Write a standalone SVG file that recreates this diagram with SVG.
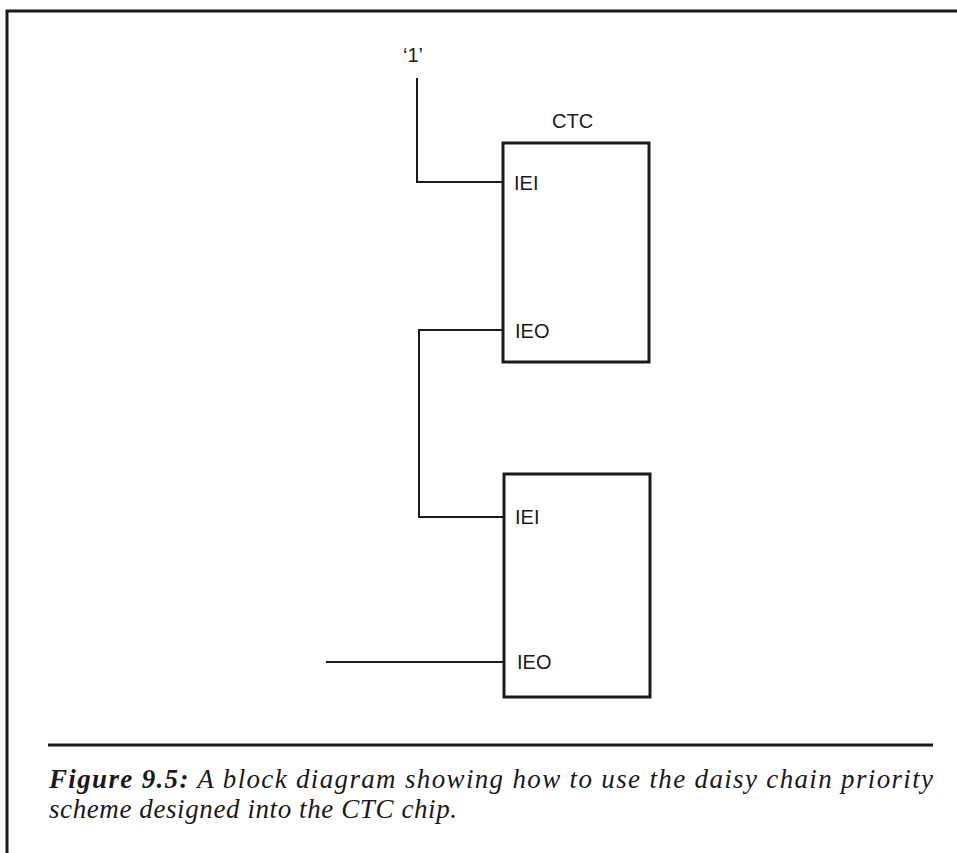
<svg xmlns="http://www.w3.org/2000/svg" width="957" height="853" viewBox="0 0 957 853">
<style>
.frame{fill:none;stroke:#1a1a1a;stroke-width:3}
.box{fill:#fff;stroke:#1a1a1a;stroke-width:3}
.wire{fill:none;stroke:#1a1a1a;stroke-width:2}
.lbl{font-family:"Liberation Sans",Arial,sans-serif;font-size:20px;fill:#1a1a1a}
.cap{font-family:"Liberation Serif","Times New Roman",serif;font-style:italic;font-size:27px;fill:#1a1a1a}
</style>
<rect width="957" height="853" fill="#fff"/>
<path class="frame" d="M7 853 V11 H957"/>
<g id="connectors">
<path class="wire" d="M417 78 V182 H503"/>
<path class="wire" d="M503 330 H419 V517 H504"/>
<path class="wire" d="M326 662 H504"/>
</g>
<g id="one"><text class="lbl" x="403" y="62">‘1’</text></g>
<g id="ctc1">
<text class="lbl" x="552" y="128">CTC</text>
<rect class="box" x="503" y="143" width="146" height="219"/>
<text class="lbl" x="514" y="190">IEI</text>
<text class="lbl" x="515" y="338">IEO</text>
</g>
<g id="ctc2">
<rect class="box" x="504" y="474" width="146" height="223"/>
<text class="lbl" x="515" y="524">IEI</text>
<text class="lbl" x="517" y="669">IEO</text>
</g>
<g id="caption">
<line x1="48" y1="745" x2="933" y2="745" stroke="#1a1a1a" stroke-width="3"/>
<text class="cap" x="49" y="788" textLength="884" lengthAdjust="spacing"><tspan font-weight="bold">Figure 9.5:</tspan> A block diagram showing how to use the daisy chain priority</text>
<text class="cap" x="49" y="818" textLength="408" lengthAdjust="spacing">scheme designed into the CTC chip.</text>
</g>
</svg>
